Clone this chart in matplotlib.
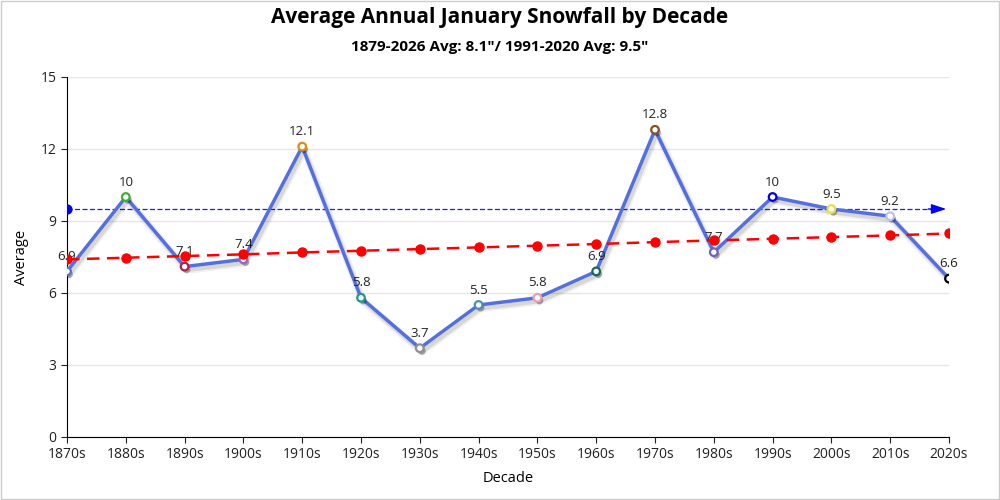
import numpy as np
import matplotlib.pyplot as plt
import matplotlib.patheffects as pe

plt.rcParams['font.family'] = ['Open Sans', 'DejaVu Sans']

decades = ['1870s', '1880s', '1890s', '1900s', '1910s', '1920s', '1930s', '1940s',
           '1950s', '1960s', '1970s', '1980s', '1990s', '2000s', '2010s', '2020s']
averages = [6.9, 10, 7.1, 7.4, 12.1, 5.8, 3.7, 5.5, 5.8, 6.9, 12.8, 7.7, 10, 9.5, 9.2, 6.6]
trend = [7.40, 7.47, 7.54, 7.61, 7.69, 7.76, 7.83, 7.90, 7.97, 8.04, 8.12, 8.19, 8.26, 8.33, 8.40, 8.48]
normal_avg = 9.5
marker_colors = ['#5470c6', '#3cb034', '#b0204a', '#a060c0', '#e08a10', '#1a9a8a', '#909090', '#4a90b0',
                 '#e8a0b0', '#1a6a5a', '#8a5020', '#7060c0', '#0000e0', '#e8e040', '#c0c4d8', '#000000']

fig = plt.figure(figsize=(10, 5), dpi=100)
ax = fig.add_axes([0.067, 0.126, 0.882, 0.72])
x = np.arange(len(decades))

# normal line with arrow
ax.plot([0, 14.85], [normal_avg, normal_avg], color='#1a1aff', lw=0.9, ls=(0, (4, 2)), zorder=2)
ax.scatter([0], [normal_avg], s=40, color='blue', zorder=3)
ax.annotate('', xy=(15, normal_avg), xytext=(14.6, normal_avg),
            arrowprops=dict(arrowstyle='-|>,head_length=0.9,head_width=0.3', color='blue', lw=1))

# main series with a soft shadow
line_shadow = [pe.SimpleLineShadow(offset=(1.5, -2.5), alpha=0.06, shadow_color='black', linewidth=5.5),
               pe.SimpleLineShadow(offset=(1.5, -2.5), alpha=0.10, shadow_color='black', linewidth=3),
               pe.Normal()]
ax.plot(x, averages, color='#5470e0', lw=2.5, zorder=4, path_effects=line_shadow)
dot_shadow = [pe.SimplePatchShadow(offset=(1.5, -2), shadow_rgbFace='black', alpha=0.3), pe.Normal()]
for i, v in enumerate(averages):
    ax.scatter(i, v, s=30, facecolor='white', edgecolor=marker_colors[i], linewidth=1.6, zorder=5,
               path_effects=dot_shadow)
    ax.text(i, v + 0.35, f'{v:g}', ha='center', va='bottom', fontsize=9.5, color='#222222', zorder=6)

# trend
ax.plot(x, trend, color='red', lw=1.8, ls=(0, (5, 3)), marker='o', ms=6.5, zorder=7)

ax.set_xlim(0, 15)
ax.set_ylim(0, 15)
ax.set_yticks([0, 3, 6, 9, 12, 15])
ax.set_xticks(x)
ax.set_xticklabels(decades)
ax.tick_params(labelsize=10, length=4, colors='#222222')
ax.yaxis.grid(True, color='#e6e6e6', lw=1)
ax.set_axisbelow(True)
for s in ['top', 'right']:
    ax.spines[s].set_visible(False)
ax.set_xlabel('Decade', fontsize=10.5, labelpad=6)
ax.set_ylabel('Average', fontsize=10.5, labelpad=8)

fig.text(0.5, 0.965, 'Average Annual January Snowfall by Decade', ha='center', va='center',
         fontsize=15, fontweight='bold')
fig.text(0.5, 0.905, '1879-2026 Avg: 8.1"/ 1991-2020 Avg: 9.5"', ha='center', va='center',
         fontsize=11, fontweight='bold')

fig.patches.append(plt.Rectangle((0.001, 0.002), 0.998, 0.996, transform=fig.transFigure,
                                 fill=False, edgecolor='#cccccc', lw=1))

fig.savefig('out.png', dpi=100)
